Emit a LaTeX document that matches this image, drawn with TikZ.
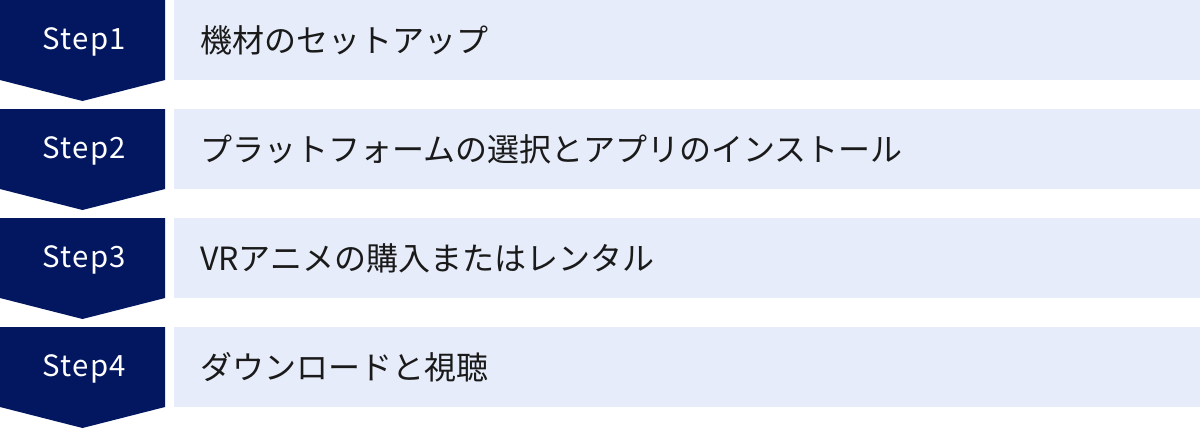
\documentclass[tikz,border=0pt]{standalone}
\usepackage{fontspec}
\setmainfont{Noto Sans CJK JP}
\newfontfamily\stepfont{Noto Sans CJK JP}[LetterSpace=5]
\definecolor{stepnavy}{RGB}{3,23,96}
\definecolor{taskfill}{RGB}{230,236,249}
\definecolor{tasktext}{RGB}{26,26,26}

\begin{document}
\begin{tikzpicture}[x=0.75pt,y=0.75pt,yscale=-1,
  steplabel/.style={text=white,inner sep=0.75pt,font=\stepfont\fontsize{22pt}{26pt}\selectfont},
  tasklabel/.style={anchor=west,text=tasktext,inner sep=0.75pt,font=\fontsize{24pt}{28pt}\selectfont}]
%set diagram to the size of the reference
\useasboundingbox (0,0) rectangle (1200,429);

\foreach \i/\task in {1/機材のセットアップ,
                      2/プラットフォームの選択とアプリのインストール,
                      3/VRアニメの購入またはレンタル,
                      4/ダウンロードと視聴} {
  \pgfmathsetmacro{\ytop}{(\i-1)*109}
  %Shape: Chevron
  \fill [stepnavy] (0,\ytop) -- (165,\ytop) -- (165,\ytop+80) -- (82.5,\ytop+101) -- (0,\ytop+80) -- cycle;
  %Shape: Rectangle
  \fill [taskfill] (174,\ytop) rectangle (1200,\ytop+80);
  % Text Node
  \node [steplabel] (step\i) at (84,\ytop+42) {Step\i};
  % Text Node
  \node [tasklabel] (task\i) at (199,\ytop+40) {\task};
}

\end{tikzpicture}
\end{document}
